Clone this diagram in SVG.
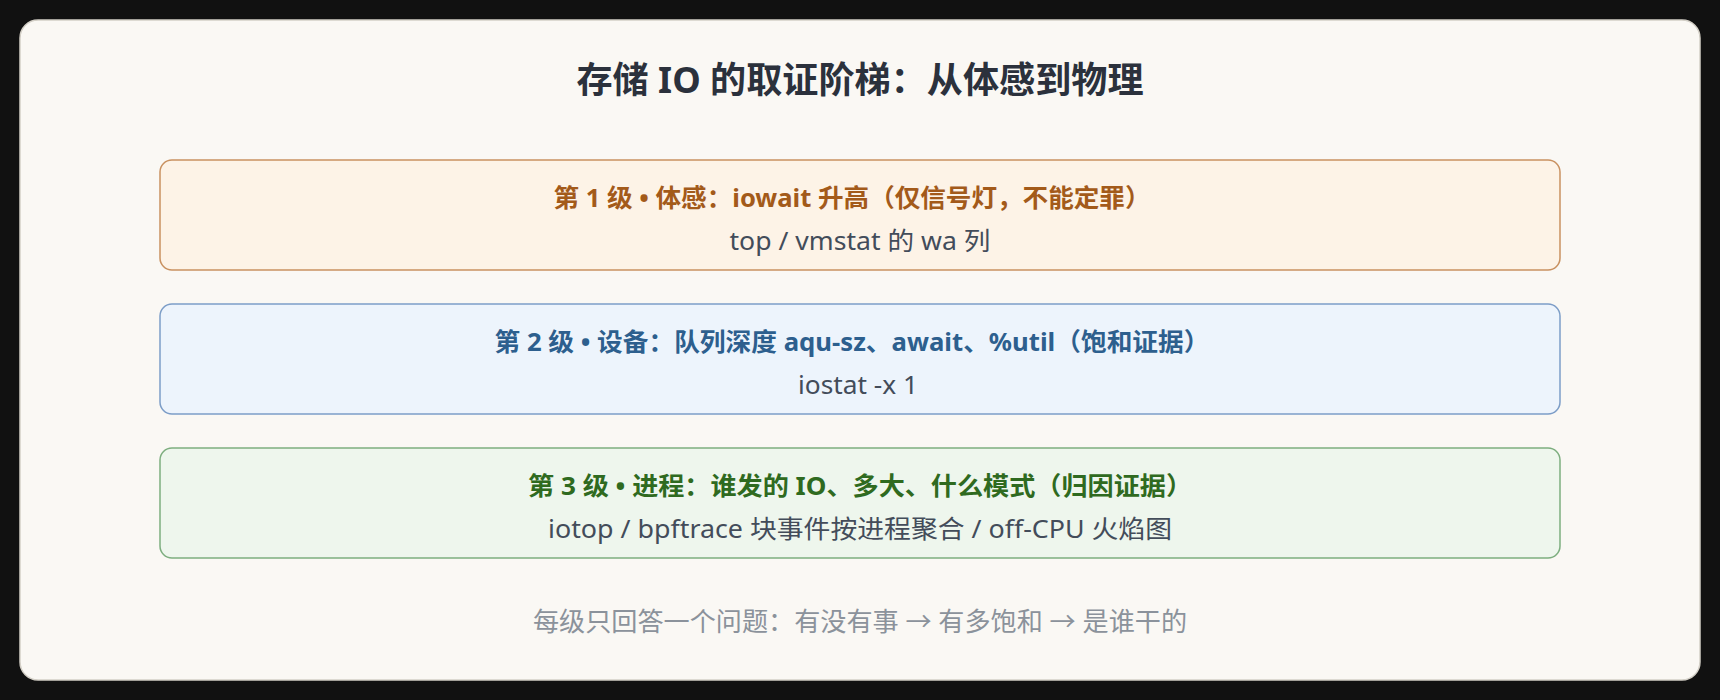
<svg xmlns="http://www.w3.org/2000/svg" width="1720" height="700" viewBox="0 0 1720 700">
  <style>
    text { font-family: "Noto Sans", "Noto Sans CJK SC", sans-serif; text-anchor: middle; }
    .title { font-size: 36px; font-weight: 700; fill: #2b313c; }
    .lvl { stroke-width: 1.5; }
    .lt { font-size: 25px; font-weight: 700; }
    .ls { font-size: 25px; fill: #434c5a; }
    .foot { font-size: 26px; fill: #8b929b; }
  </style>
  <rect x="0" y="0" width="1720" height="700" fill="#111111"/>
  <rect x="20" y="20" width="1680" height="660" rx="18" fill="#faf8f4" stroke="#d3cfc6" stroke-width="1.5"/>
  <text class="title" x="860" y="93" textLength="567" lengthAdjust="spacingAndGlyphs">存储 IO 的取证阶梯：从体感到物理</text>
  <g id="level1">
    <rect class="lvl" x="160" y="160" width="1400" height="110" rx="12" fill="#fdf3e7" stroke="#c99160"/>
    <text class="lt" x="852" y="207" fill="#a35a1a" textLength="597" lengthAdjust="spacingAndGlyphs">第 1 级 • 体感：iowait 升高（仅信号灯，不能定罪）</text>
    <text class="ls" x="860" y="250" textLength="261" lengthAdjust="spacingAndGlyphs">top / vmstat 的 wa 列</text>
  </g>
  <g id="level2">
    <rect class="lvl" x="160" y="304" width="1400" height="110" rx="12" fill="#edf4fc" stroke="#7c9dc7"/>
    <text class="lt" x="852" y="351" fill="#2d5f8e" textLength="715" lengthAdjust="spacingAndGlyphs">第 2 级 • 设备：队列深度 aqu-sz、await、%util（饱和证据）</text>
    <text class="ls" x="858" y="394" textLength="120" lengthAdjust="spacingAndGlyphs">iostat -x 1</text>
  </g>
  <g id="level3">
    <rect class="lvl" x="160" y="448" width="1400" height="110" rx="12" fill="#eef6ed" stroke="#7dae7f"/>
    <text class="lt" x="860" y="495" fill="#2f6a20" textLength="664" lengthAdjust="spacingAndGlyphs">第 3 级 • 进程：谁发的 IO、多大、什么模式（归因证据）</text>
    <text class="ls" x="860" y="538" textLength="624" lengthAdjust="spacingAndGlyphs">iotop / bpftrace 块事件按进程聚合 / off-CPU 火焰图</text>
  </g>
  <g id="connectors"></g>
  <text class="foot" x="860" y="631" textLength="654" lengthAdjust="spacingAndGlyphs">每级只回答一个问题：有没有事 → 有多饱和 → 是谁干的</text>
</svg>
